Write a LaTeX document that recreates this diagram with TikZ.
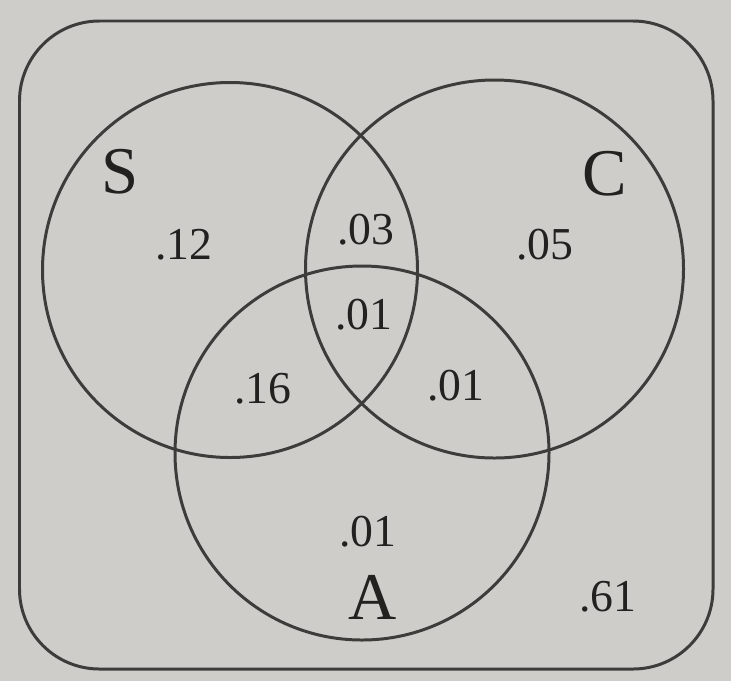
\documentclass[tikz,border=0pt]{standalone}
\usepackage{fontspec}
\setmainfont{Liberation Serif}
\usepackage{tikz}
\usetikzlibrary{positioning}
\definecolor{paper}{RGB}{207,205,201}
\definecolor{ink}{RGB}{62,60,58}
\definecolor{txt}{RGB}{35,33,32}

\begin{document}
\begin{tikzpicture}[
  set/.style={line width=1.7pt, draw=ink},
  num/.style={font=\fontsize{26}{26}\selectfont, text=txt, inner sep=0pt},
  lbl/.style={font=\fontsize{38}{38}\selectfont, text=txt, inner sep=0pt}]
% Paper
\fill[paper] (0,0) rectangle (14.62,-13.62);
\useasboundingbox (0,0) rectangle (14.62,-13.62);
% Universe
\draw[set, rounded corners=1.6cm] (0.39,-0.42) rectangle (14.26,-13.38);
% Three sets
\foreach \n/\x/\y/\r in {S/4.6/-5.4/3.75, C/9.89/-5.38/3.78, A/7.24/-9.06/3.74} {
  \draw[set] (\x,\y) circle (\r);
}
% Set names
\node[lbl] (nameS) at (2.40,-3.43) {S};
\node[lbl] (nameC) at (12.10,-3.48) {C};
\node[lbl] (nameA) at (7.46,-11.94) {A};
% Probabilities of the regions
\foreach \name/\x/\y/\v in {pS/3.68/-4.90/.12, pSC/7.32/-4.60/.03, pC/10.90/-4.90/.05,
    pSCA/7.28/-6.30/.01, pSA/5.26/-7.78/.16, pCA/9.12/-7.72/.01,
    pA/7.36/-10.64/.01, pout/12.16/-11.94/.61} {
  \node[num] (\name) at (\x,\y) {\v};
}
\end{tikzpicture}
\end{document}
